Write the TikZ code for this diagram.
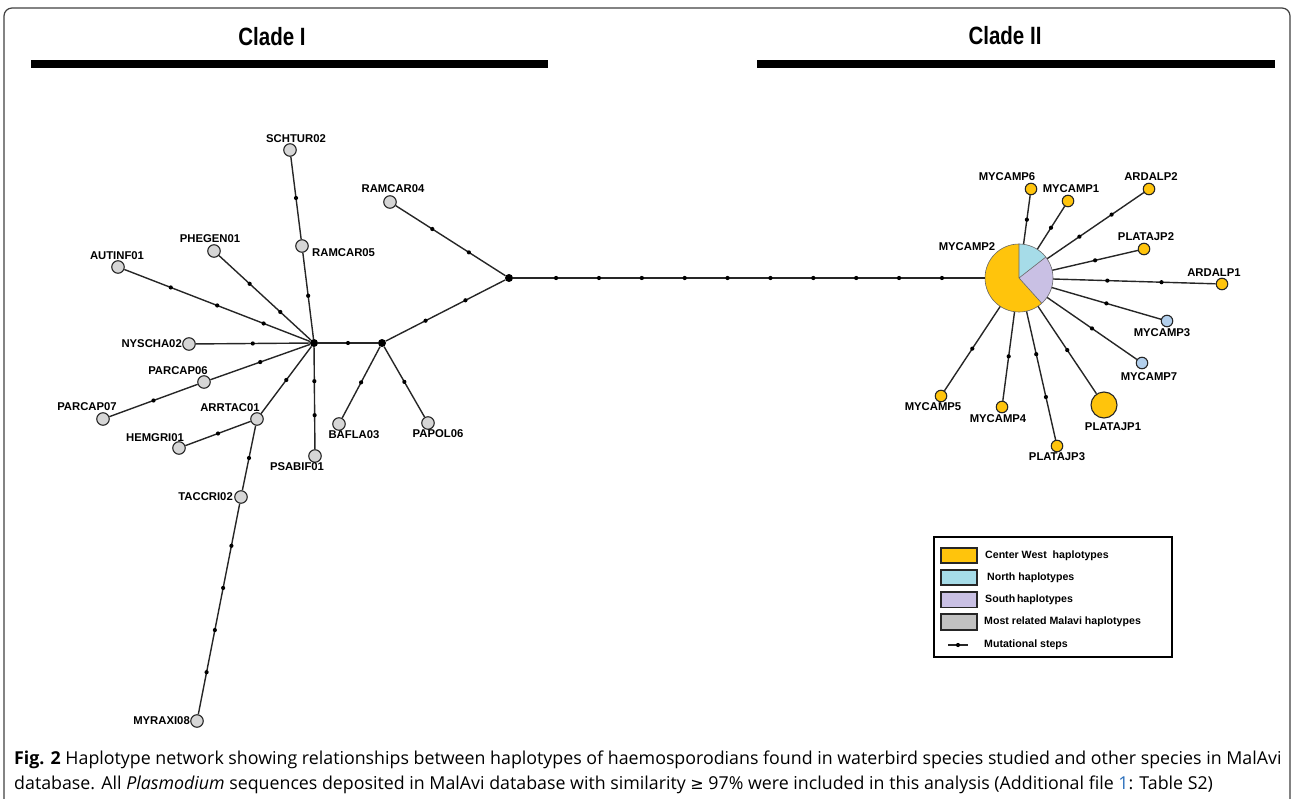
\documentclass[tikz,border=0pt]{standalone}
\usepackage{fontspec}
\usepackage{graphicx}
\setmainfont{Liberation Sans}
\newfontfamily\capfont{Open Sans}
\newfontfamily\symfont{DejaVu Sans}
\usetikzlibrary{calc}
\definecolor{cw}{HTML}{FFC40C}
\definecolor{nb}{HTML}{A6DCE8}
\definecolor{sl}{HTML}{C9C0E4}
\definecolor{gleaf}{HTML}{D6D6D6}
\definecolor{lblue}{HTML}{B2CFEC}
\definecolor{linkblue}{HTML}{2A6EBB}
\tikzset{
  edge/.style={line width=1.4pt, draw=black!85},
  leaf/.style={circle, draw=black!85, line width=1.1pt, inner sep=0, minimum size=12.5pt, fill=gleaf},
  yleaf/.style={leaf, fill=cw, minimum size=11.5pt},
  bleaf/.style={leaf, fill=lblue, minimum size=11.5pt},
  hub/.style={circle, fill=black, inner sep=0, minimum size=8pt},
  mdot/.style={circle, fill=black, inner sep=0, minimum size=4.2pt},
  lab/.style={font=\bfseries\fontsize{11.3}{13}\selectfont, inner sep=0},
  legtxt/.style={font=\bfseries\fontsize{10.6}{12}\selectfont, inner sep=0, anchor=west},
  swatch/.style={draw=black!85, line width=1.6pt},
  title/.style={font=\bfseries\fontsize{25}{28}\selectfont, inner sep=0},
  capt/.style={font=\capfont\fontsize{17.8}{20}\selectfont, inner sep=0, anchor=base west}
}
\newcommand\edg[3]{\draw[edge] (#1) -- (#2);
  \foreach \k [evaluate=\k as \pp using \k/(#3+1)] in {1,...,#3}{%
    \path (#1) -- node[mdot,pos=\pp] (#1-#2-\k) {} (#2);}}
\begin{document}
\begin{tikzpicture}[x=1pt,y=1pt]
\useasboundingbox (0,0) rectangle (1292,-799);
% frame
\draw[black!75, line width=1.2pt] (4,-799) -- (4,-16) arc[start angle=180,end angle=90,radius=8] -- (1282,-8) arc[start angle=90,end angle=0,radius=8] -- (1290,-799);
% titles and bars
\node[title] (t1) at (272,-37) {\scalebox{0.82}[1]{Clade I}};
\node[title] (t2) at (1005,-36) {\scalebox{0.82}[1]{Clade II}};
\fill[black] (31,-60) rectangle (548,-68);
\fill[black] (757,-60) rectangle (1275,-68);
% hubs
\node[hub] (h1) at (314,-343) {};
\node[hub] (h2) at (382,-343) {};
\node[hub] (h3) at (509,-278) {};
% MYCAMP2 pie
\node[circle, minimum size=68pt, inner sep=0] (m2) at (1019,-278) {};
\fill[cw] (m2.center) -- ++(90:34) arc[start angle=90,end angle=312,radius=34] -- cycle;
\fill[nb] (m2.center) -- ++(38:34) arc[start angle=38,end angle=90,radius=34] -- cycle;
\fill[sl] (m2.center) -- ++(-48:34) arc[start angle=-48,end angle=38,radius=34] -- cycle;
\draw[black!60, line width=0.6pt] (m2.center) circle[radius=34];
\draw[black!60, line width=0.6pt] (m2.center) -- ++(90:34) (m2.center) -- ++(38:34) (m2.center) -- ++(-48:34);
% left leaves
\node[leaf] (schtur) at (290,-150) {};
\node[leaf] (ramcar05) at (302,-246) {};
\node[leaf] (phegen) at (214,-251) {};
\node[leaf] (autinf) at (118,-267) {};
\node[leaf] (nyscha) at (189,-344) {};
\node[leaf] (parcap06) at (204,-382) {};
\node[leaf] (parcap07) at (103,-419) {};
\node[leaf] (arrtac) at (257,-419) {};
\node[leaf] (hemgri) at (179,-448) {};
\node[leaf] (taccri) at (241,-497) {};
\node[leaf] (myraxi) at (197,-721) {};
\node[leaf] (psabif) at (315,-456) {};
\node[leaf] (bafla) at (339,-424) {};
\node[leaf] (papol) at (428,-423) {};
\node[leaf] (ramcar04) at (390,-202) {};
% left labels
\node[lab] (l-schtur) at (296,-139) {SCHTUR02};
\node[lab, anchor=west] (l-ramcar05) at (312,-253) {RAMCAR05};
\node[lab] (l-phegen) at (210,-239) {PHEGEN01};
\node[lab] (l-autinf) at (117,-256) {AUTINF01};
\node[lab, anchor=east] (l-nyscha) at (182,-344) {NYSCHA02};
\node[lab] (l-parcap06) at (178,-371) {PARCAP06};
\node[lab] (l-parcap07) at (87,-407) {PARCAP07};
\node[lab] (l-arrtac) at (230,-408) {ARRTAC01};
\node[lab] (l-hemgri) at (155,-438) {HEMGRI01};
\node[lab, anchor=east] (l-taccri) at (233,-497) {TACCRI02};
\node[lab, anchor=east] (l-myraxi) at (190,-721) {MYRAXI08};
\node[lab] (l-psabif) at (297,-467) {PSABIF01};
\node[lab] (l-bafla) at (354,-435) {BAFLA03};
\node[lab] (l-papol) at (438,-434) {PAPOL06};
\node[lab] (l-ramcar04) at (393,-189) {RAMCAR04};
% right leaves
\node[yleaf] (mycamp6) at (1031,-189) {};
\node[yleaf] (mycamp1) at (1068,-201) {};
\node[yleaf] (ardalp2) at (1149,-189) {};
\node[yleaf] (platajp2) at (1144,-249) {};
\node[yleaf] (ardalp1) at (1222,-284) {};
\node[bleaf] (mycamp3) at (1167,-321) {};
\node[bleaf] (mycamp7) at (1142,-363) {};
\node[yleaf, minimum size=26pt] (platajp1) at (1104,-405) {};
\node[yleaf] (platajp3) at (1057,-446) {};
\node[yleaf] (mycamp4) at (1002,-407) {};
\node[yleaf] (mycamp5) at (941,-396) {};
% right labels
\node[lab] (l-m2) at (967,-247) {MYCAMP2};
\node[lab] (l-mycamp6) at (1007,-177) {MYCAMP6};
\node[lab] (l-mycamp1) at (1071,-189) {MYCAMP1};
\node[lab] (l-ardalp2) at (1151,-177) {ARDALP2};
\node[lab] (l-platajp2) at (1146,-237) {PLATAJP2};
\node[lab] (l-ardalp1) at (1214,-273) {ARDALP1};
\node[lab] (l-mycamp3) at (1162,-333) {MYCAMP3};
\node[lab] (l-mycamp7) at (1149,-377) {MYCAMP7};
\node[lab] (l-platajp1) at (1113,-427) {PLATAJP1};
\node[lab] (l-platajp3) at (1057,-457) {PLATAJP3};
\node[lab] (l-mycamp4) at (998,-419) {MYCAMP4};
\node[lab] (l-mycamp5) at (933,-407) {MYCAMP5};
% edges with mutational steps
\edg{schtur}{ramcar05}{1}
\edg{ramcar05}{h1}{1}
\edg{phegen}{h1}{2}
\edg{autinf}{h1}{3}
\edg{nyscha}{h1}{1}
\edg{parcap06}{h1}{1}
\edg{parcap07}{parcap06}{1}
\edg{arrtac}{h1}{1}
\edg{hemgri}{arrtac}{1}
\edg{taccri}{arrtac}{1}
\edg{myraxi}{taccri}{4}
\edg{psabif}{h1}{2}
\edg{h1}{h2}{1}
\edg{bafla}{h2}{1}
\edg{papol}{h2}{1}
\edg{h2}{h3}{2}
\edg{ramcar04}{h3}{2}
\edg{h3}{m2}{10}
\edg{m2}{mycamp6}{1}
\edg{m2}{mycamp1}{1}
\edg{m2}{ardalp2}{2}
\edg{m2}{platajp2}{1}
\edg{m2}{ardalp1}{2}
\edg{m2}{mycamp3}{1}
\edg{m2}{mycamp7}{1}
\edg{m2}{platajp1}{1}
\edg{m2}{platajp3}{2}
\edg{m2}{mycamp4}{1}
\edg{m2}{mycamp5}{1}
% legend
\draw[black, line width=1.4pt] (934,-537) rectangle (1172,-657);
\draw[swatch, fill=cw] (941,-548) rectangle (977,-563);
\draw[swatch, fill=nb] (941,-570) rectangle (977,-585);
\draw[swatch, fill=sl] (941,-592) rectangle (977,-607.5);
\draw[swatch, fill=gleaf!90!black] (941,-614) rectangle (977,-630);
\node[legtxt] (lg1) at (985,-556) {Center West\ \ haplotypes};
\node[legtxt] (lg2) at (987,-577.5) {North haplotypes};
\node[legtxt] (lg3) at (985,-600) {South\,haplotypes};
\node[legtxt] (lg4) at (984,-622) {Most related Malavi haplotypes};
\node[legtxt] (lg5) at (984,-645) {Mutational steps};
\coordinate (ls1) at (948,-645);
\coordinate (ls2) at (968,-645);
\draw[edge] (ls1) -- (ls2);
\node[mdot] (lsd) at (958,-645) {};
% caption
\node[capt] (cap1) at (14,-764) {\textbf{Fig. 2} Haplotype network showing relationships between haplotypes of haemosporodians found in waterbird species studied and other species in MalAvi};
\node[capt] (cap2) at (14,-789) {database. All \textit{Plasmodium} sequences deposited in MalAvi database with similarity {\symfont\fontsize{16}{18}\selectfont ≥} 97\% were included in this analysis (Additional file \textcolor{linkblue}{1}: Table S2)};
\end{tikzpicture}
\end{document}
